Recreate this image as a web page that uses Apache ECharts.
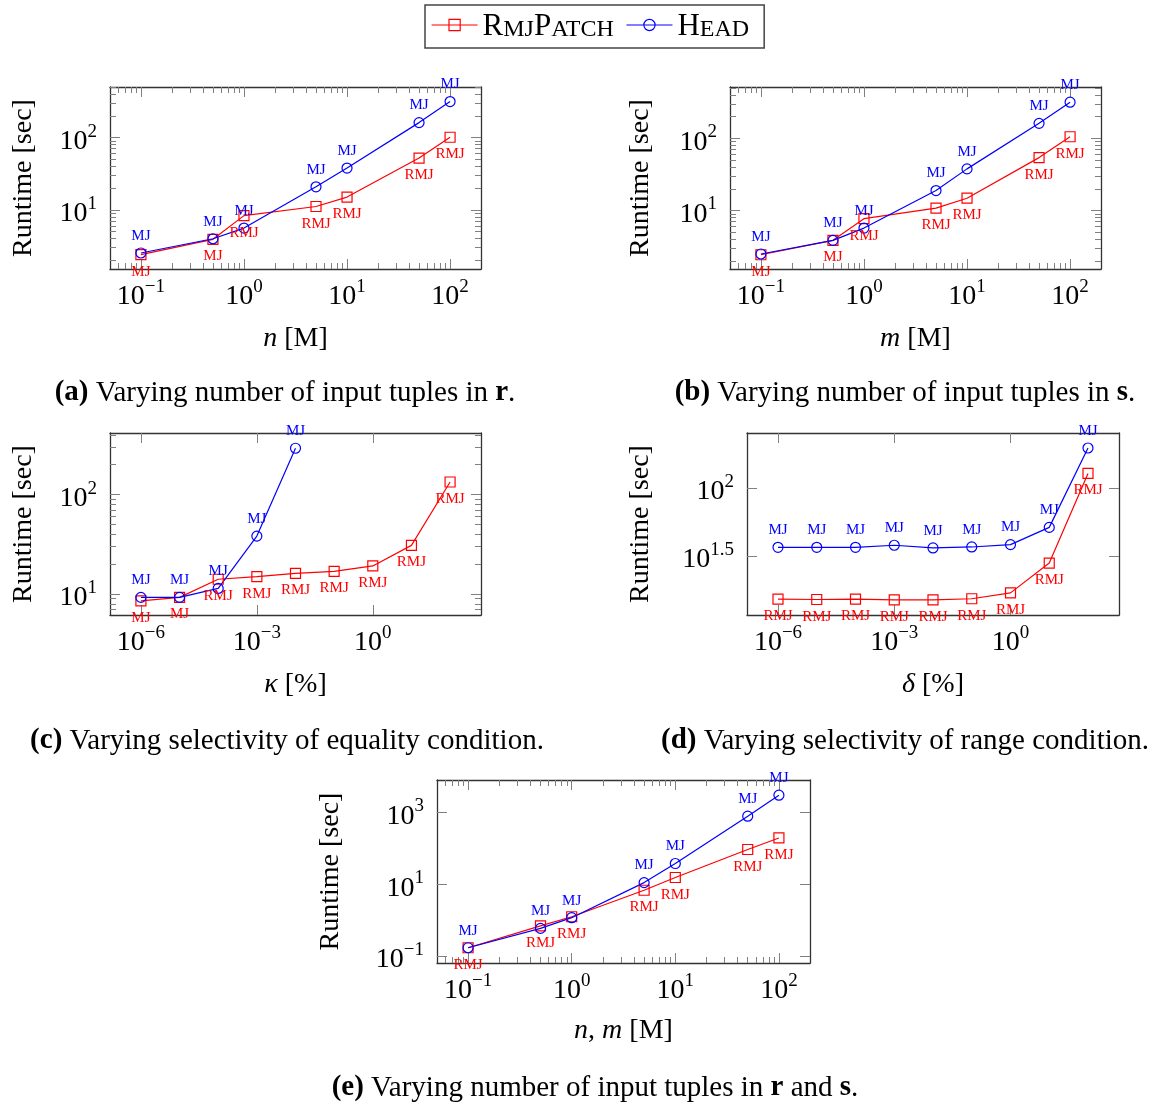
<!DOCTYPE html>
<html><head><meta charset="utf-8">
<script src="https://cdn.jsdelivr.net/npm/echarts@6/dist/echarts.min.js"></script>
<style>html,body{margin:0;padding:0;background:#fff}#c{width:1157px;height:1107px}</style>
</head><body><div id="c"></div>
<script>
// ---------------- DATA ----------------
// (a) varying |r|  (n in millions)
const sizesA = [0.1, 0.5, 1, 5, 10, 50, 100];
const rmjA   = [2.39, 3.9, 8.3, 11.1, 15.0, 52, 101];
const headA  = [2.52, 3.97, 5.58, 20.8, 37.8, 161, 315];
const rmjLabelsA  = ['MJ', 'MJ', 'RMJ', 'RMJ', 'RMJ', 'RMJ', 'RMJ'];
const headLabelsA = ['MJ', 'MJ', 'MJ', 'MJ', 'MJ', 'MJ', 'MJ'];
// (b) varying |s|  (m in millions)
const sizesB = [0.1, 0.5, 1, 5, 10, 50, 100];
const rmjB   = [2.44, 3.86, 7.7, 10.8, 14.8, 54, 105];
const headB  = [2.50, 3.86, 5.71, 18.9, 37.7, 161, 316];
const rmjLabelsB  = ['MJ', 'MJ', 'RMJ', 'RMJ', 'RMJ', 'RMJ', 'RMJ'];
const headLabelsB = ['MJ', 'MJ', 'MJ', 'MJ', 'MJ', 'MJ', 'MJ'];
// (c) selectivity of equality condition kappa [%]
const kappa  = [1e-6, 1e-5, 1e-4, 1e-3, 1e-2, 1e-1, 1, 10, 100];
const rmjC   = [8.57, 9.27, 14.1, 15.0, 16.2, 16.9, 19.2, 30.9, 134];
const headC  = [9.27, 9.27, 11.4, 38.3, 293];
const rmjLabelsC  = ['MJ', 'MJ', 'RMJ', 'RMJ', 'RMJ', 'RMJ', 'RMJ', 'RMJ', 'RMJ'];
const headLabelsC = ['MJ', 'MJ', 'MJ', 'MJ', 'MJ'];
// (d) selectivity of range condition delta [%]
const delta  = [1e-6, 1e-5, 1e-4, 1e-3, 1e-2, 1e-1, 1, 10, 100];
const rmjD   = [15.2, 15.1, 15.2, 15.0, 15.0, 15.3, 16.9, 28.0, 128];
const headD  = [36.6, 36.6, 36.6, 37.9, 36.2, 36.8, 38.3, 51.3, 197];
const rmjLabelsD  = ['RMJ', 'RMJ', 'RMJ', 'RMJ', 'RMJ', 'RMJ', 'RMJ', 'RMJ', 'RMJ'];
const headLabelsD = ['MJ', 'MJ', 'MJ', 'MJ', 'MJ', 'MJ', 'MJ', 'MJ', 'MJ'];
// (e) varying |r| and |s|
const sizesE = [0.1, 0.5, 1, 5, 10, 50, 100];
const rmjE   = [0.17, 0.69, 1.24, 6.8, 15.4, 93, 195];
const headE  = [0.17, 0.59, 1.17, 11.1, 37.8, 789, 3030];
const rmjLabelsE  = ['RMJ', 'RMJ', 'RMJ', 'RMJ', 'RMJ', 'RMJ', 'RMJ'];
const headLabelsE = ['MJ', 'MJ', 'MJ', 'MJ', 'MJ', 'MJ', 'MJ'];

// tick label exponents (10^k)
const xTicksSize = [-1, 0, 1, 2];
const xTicksSel  = [-6, -3, 0];
const yTicksAB   = [1, 2];
const yTicksC    = [1, 2];
const yTicksD    = [1.5, 2];
const yTicksE    = [-1, 1, 3];

const seriesNames = ['RmjPatch', 'HEAD'];
const captions = [
  '{b|(a)} Varying number of input tuples in {b|r}.',
  '{b|(b)} Varying number of input tuples in {b|s}.',
  '{b|(c)} Varying selectivity of equality condition.',
  '{b|(d)} Varying selectivity of range condition.',
  '{b|(e)} Varying number of input tuples in {b|r} and {b|s}.'
];
const xNames = ['{i|n} [M]', '{i|m} [M]', '{i|κ} [%]', '{i|δ} [%]', '{i|n}, {i|m} [M]'];
const yName = 'Runtime [sec]';

// ---------------- LAYOUT / STYLE ----------------
const FONT = 'Liberation Serif';
const RED = '#ff0000', BLUE = '#0000ff';
const BIG = 28;

const panels = [
  {rect:[110, 87, 371, 182], x:[-1.3, 2.3], y:[0.18, 2.70], xt:xTicksSize, yt:yTicksAB, xMinor:true, yMinor:true, xGap:55, yGap:71,
   xs:sizesA, rmj:rmjA, head:headA, rl:rmjLabelsA, hl:headLabelsA, cap:[285, 393]},
  {rect:[730, 87, 371, 182], x:[-1.3, 2.3], y:[0.19, 2.71], xt:xTicksSize, yt:yTicksAB, xMinor:true, yMinor:true, xGap:55, yGap:74,
   xs:sizesB, rmj:rmjB, head:headB, rl:rmjLabelsB, hl:headLabelsB, cap:[905, 393]},
  {rect:[110, 433, 371, 182], x:[-6.8, 2.8], y:[0.79, 2.62], xt:xTicksSel, yt:yTicksC, xMinor:false, yMinor:true, xGap:55, yGap:71,
   xs:kappa, rmj:rmjC, head:headC, rl:rmjLabelsC, hl:headLabelsC, cap:[287, 741]},
  {rect:[747, 433, 372, 182], x:[-6.8, 2.8], y:[1.065, 2.405], xt:xTicksSel, yt:yTicksD, xMinor:false, yMinor:false, xGap:55, yGap:91,
   xs:delta, rmj:rmjD, head:headD, rl:rmjLabelsD, hl:headLabelsD, cap:[905, 741]},
  {rect:[437, 780, 373, 183], x:[-1.3, 2.3], y:[-1.195, 3.905], xt:xTicksSize, yt:yTicksE, xMinor:true, yMinor:false, xGap:53, yGap:91,
   xs:sizesE, rmj:rmjE, head:headE, rl:rmjLabelsE, hl:headLabelsE, cap:[595, 1088]}
];

function minorTicks(lo, hi) {
  const out = [];
  for (let d = Math.floor(lo) - 1; d <= Math.ceil(hi); d++)
    for (let k = 2; k <= 9; k++) {
      const v = d + Math.log10(k);
      if (v > lo + 1e-6 && v < hi - 1e-6) out.push(v);
    }
  return out;
}
function expLabel(v) {
  const e = Math.round(v * 10) / 10;
  return '{b|10}{s|' + String(e).replace('-', '\u2212') + '}';
}
const tickRich = {
  b: {fontFamily: FONT, fontSize: BIG, color: '#000', height: 18, lineHeight: 26, verticalAlign: 'bottom'},
  s: {fontFamily: FONT, fontSize: 19, color: '#000', height: 14, lineHeight: 26, verticalAlign: 'top'}
};
const nameStyle = {
  fontFamily: FONT, fontSize: BIG, color: '#000', lineHeight: 30,
  rich: {i: {fontFamily: FONT, fontSize: BIG, fontStyle: 'italic', color: '#000', lineHeight: 30}}
};
const AXIS_LINE = {show: true, onZero: false, lineStyle: {color: '#333', width: 1.3}};
const NO_LINE = {show: false, onZero: false};
const TICK_COLOR = '#808080';

const grids = [], xAxes = [], yAxes = [], series = [], graphics = [];

panels.forEach((p, gi) => {
  grids.push({left: p.rect[0], top: p.rect[1], width: p.rect[2], height: p.rect[3], containLabel: false});
  const base = {type: 'value', gridIndex: gi, splitLine: {show: false}, axisLabel: {show: false}};
  // x axes
  const xMain = xAxes.length;
  xAxes.push(Object.assign({}, base, {
    min: p.x[0], max: p.x[1], position: 'bottom', axisLine: AXIS_LINE,
    axisTick: {show: true, inside: true, length: 10, customValues: p.xt, lineStyle: {color: TICK_COLOR}},
    axisLabel: {show: true, customValues: p.xt, formatter: expLabel, margin: 11, rich: tickRich},
    name: xNames[gi], nameLocation: 'middle', nameGap: p.xGap, nameTextStyle: nameStyle
  }));
  xAxes.push(Object.assign({}, base, {
    min: p.x[0], max: p.x[1], position: 'top', axisLine: AXIS_LINE,
    axisTick: {show: true, inside: true, length: 10, customValues: p.xt, lineStyle: {color: TICK_COLOR}}
  }));
  if (p.xMinor) {
    const mt = minorTicks(p.x[0], p.x[1]);
    ['bottom', 'top'].forEach(pos => xAxes.push(Object.assign({}, base, {
      min: p.x[0], max: p.x[1], position: pos, axisLine: NO_LINE,
      axisTick: {show: true, inside: true, length: 6, customValues: mt, lineStyle: {color: TICK_COLOR}}
    })));
  }
  // y axes
  const yMain = yAxes.length;
  yAxes.push(Object.assign({}, base, {
    min: p.y[0], max: p.y[1], position: 'left', axisLine: AXIS_LINE,
    axisTick: {show: true, inside: true, length: 10, customValues: p.yt, lineStyle: {color: TICK_COLOR}},
    axisLabel: {show: true, customValues: p.yt, formatter: expLabel, margin: 13, rich: tickRich},
    name: yName, nameLocation: 'middle', nameGap: p.yGap, nameTextStyle: nameStyle
  }));
  yAxes.push(Object.assign({}, base, {
    min: p.y[0], max: p.y[1], position: 'right', axisLine: AXIS_LINE,
    axisTick: {show: true, inside: true, length: 10, customValues: p.yt, lineStyle: {color: TICK_COLOR}}
  }));
  if (p.yMinor) {
    const mt = minorTicks(p.y[0], p.y[1]);
    ['left', 'right'].forEach(pos => yAxes.push(Object.assign({}, base, {
      min: p.y[0], max: p.y[1], position: pos, axisLine: NO_LINE,
      axisTick: {show: true, inside: true, length: 6, customValues: mt, lineStyle: {color: TICK_COLOR}}
    })));
  }
  // series
  const mk = (name, ys, labels, color, symbol, pos) => ({
    type: 'line', name: name, xAxisIndex: xMain, yAxisIndex: yMain,
    data: ys.map((v, i) => [Math.log10(p.xs[i]), Math.log10(v)]),
    symbol: symbol, symbolSize: 10, showAllSymbol: true,
    itemStyle: {color: 'rgba(255,255,255,0)', borderColor: color, borderWidth: 1.2},
    lineStyle: {color: color, width: 1.2},
    label: {show: true, position: pos, distance: 4, color: color, fontFamily: FONT, fontSize: 15,
            formatter: q => labels[q.dataIndex]},
    emphasis: {disabled: true}, animation: false
  });
  series.push(mk(seriesNames[0], p.rmj, p.rl, RED, 'rect', 'bottom'));
  series.push(mk(seriesNames[1], p.head, p.hl, BLUE, 'circle', 'top'));
  // caption
  graphics.push({
    type: 'text', x: p.cap[0], y: p.cap[1],
    style: {text: captions[gi], fontFamily: FONT, fontSize: 29, fill: '#000',
            align: 'center', verticalAlign: 'middle', textAlign: 'center', textVerticalAlign: 'middle',
            rich: {b: {fontFamily: FONT, fontSize: 29, fontWeight: 'bold', fill: '#000'}}}
  });
});

const chart = echarts.init(document.getElementById('c'));
chart.setOption({
  backgroundColor: '#fff',
  animation: false,
  legend: {
    left: 425, top: 5, padding: [6, 15, 6, 6], itemGap: 12, itemWidth: 46, itemHeight: 14,
    borderColor: '#444', borderWidth: 1.5, borderRadius: 0,
    data: [
      {name: 'RmjPatch', itemStyle: {color: 'rgba(255,255,255,0)', borderColor: RED, borderWidth: 1.2}, lineStyle: {color: RED, width: 1.2}},
      {name: 'HEAD', itemStyle: {color: 'rgba(255,255,255,0)', borderColor: BLUE, borderWidth: 1.2}, lineStyle: {color: BLUE, width: 1.2}}
    ],
    formatter: n => n === 'RmjPatch' ? '{c|R}{s|MJ}{c|P}{s|ATCH}' : '{c|H}{s|EAD}',
    textStyle: {
      fontFamily: FONT, color: '#000',
      rich: {
        c: {fontFamily: FONT, fontSize: 31, color: '#000', verticalAlign: 'bottom', lineHeight: 34},
        s: {fontFamily: FONT, fontSize: 24, color: '#000', verticalAlign: 'bottom', lineHeight: 34}
      }
    }
  },
  grid: grids, xAxis: xAxes, yAxis: yAxes, series: series, graphic: graphics
});
</script></body></html>
